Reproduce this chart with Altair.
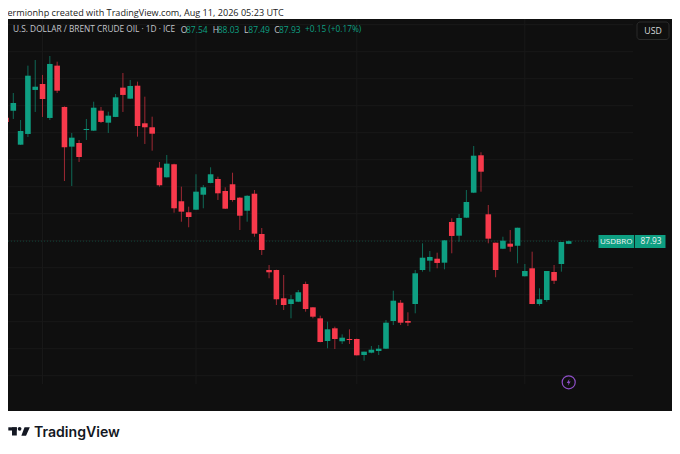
import altair as alt
import pandas as pd

idx = list(range(-1, 77))
opens = [106.20,107.26,102.22,103.81,110.33,111.21,106.18,113.93,107.81,101.93,102.47,104.40,104.30,107.26,105.48,106.33,110.67,109.04,110.96,105.39,104.80,
         98.81,97.39,99.32,93.84,92.21,92.59,94.81,96.55,97.14,95.36,96.36,94.37,92.44,94.96,88.99,83.66,83.66,79.47,78.62,78.96,81.58,78.13,76.50,73.14,75.02,73.10,
         73.44,73.44,71.07,71.41,71.66,72.00,76.10,78.81,76.10,78.62,83.66,85.04,85.33,84.74,90.77,88.74,91.41,95.11,100.65,91.91,87.70,86.81,87.56,87.26,82.73,83.91,78.62,79.21,83.36,84.55,87.54]
closes = [105.60,108.40,104.25,112.44,110.81,108.99,114.18,110.22,101.84,103.26,100.40,104.55,107.70,105.59,106.52,109.24,109.59,110.92,104.99,104.80,103.85,
          96.21,99.41,92.80,92.30,91.51,95.26,95.91,97.84,95.02,92.74,94.03,91.70,94.65,89.04,86.62,83.32,79.32,78.47,79.32,80.36,77.88,76.74,72.99,74.87,73.44,73.63,
          73.29,71.02,71.56,71.85,72.00,75.85,79.11,75.85,75.85,83.17,85.48,85.59,84.70,88.05,88.70,91.36,93.73,100.59,98.22,88.30,83.66,88.00,87.11,89.93,83.51,78.62,79.32,83.51,82.07,87.81,87.93]
highs = [106.60,109.88,105.88,113.93,114.77,112.55,115.36,114.52,107.90,103.96,102.92,106.03,108.59,107.81,107.11,109.73,112.84,111.81,111.56,109.33,106.37,
         99.66,100.70,99.40,96.00,93.04,97.84,96.25,98.87,97.48,95.91,98.07,94.45,94.73,95.51,89.88,84.40,83.70,82.92,79.95,80.70,81.93,78.15,76.89,76.00,75.26,74.13,
         74.87,73.50,71.56,72.40,72.55,76.25,80.59,79.21,77.39,83.66,87.61,86.47,86.22,88.10,91.32,91.96,95.51,102.03,101.10,93.29,87.70,88.59,89.58,89.93,84.55,86.37,80.95,83.51,84.40,87.81,88.03]
lows = [105.20,106.03,102.18,103.36,107.07,106.33,105.88,109.88,96.84,96.10,99.66,102.92,104.25,105.44,103.96,106.30,107.07,109.00,103.41,102.33,101.33,
        96.00,97.35,92.15,90.81,89.99,92.55,92.80,96.50,94.03,92.70,93.78,89.58,90.81,88.59,85.88,82.43,78.47,77.73,76.50,78.90,77.48,76.50,72.95,72.06,71.95,72.70,
        72.70,71.00,70.22,71.32,71.07,71.95,75.51,75.51,75.36,77.24,83.41,83.41,83.91,83.76,86.13,87.85,91.35,95.05,95.26,87.61,82.58,86.75,86.37,84.65,82.70,78.60,78.37,78.96,81.58,83.41,87.49]

price_ticks = [68, 72, 76, 80, 84, 88, 92, 96, 100, 104, 108, 112, 116, 120]
price_labels = [68, 72, 76, 80, 84, 92, 96, 100, 104, 108, 112, 116]
month_ticks = [4, 25, 47, 70]
month_names = ["May", "Jun", "Jul", "Aug"]
last_price = 87.93

UP = "#0e9f82"
DOWN = "#f7394b"
BG = "#0f0f0f"
GRID = "#191919"
TXT = "#c4c6cc"
FONT = "Open Sans"

df = pd.DataFrame({"i": idx, "o": opens, "c": closes, "h": highs, "l": lows})
df["dir"] = ["up" if c >= o else "down" for o, c in zip(df.o, df.c)]

xscale = alt.Scale(domain=[-0.725, 84.8], nice=False, zero=False, padding=0)
yscale = alt.Scale(domain=[66.77, 120.84], nice=False, zero=False)
color = alt.Color("dir:N", legend=None, scale=alt.Scale(domain=["up", "down"], range=[UP, DOWN]))


def one():
    return alt.Data(values=[{"k": 1}])


def label(text, px, py, size=10, col=TXT, font=FONT, align="left", weight=400):
    return alt.Chart(one()).mark_text(
        text=text, align=align, baseline="middle", fontSize=size, color=col, font=font, fontWeight=weight
    ).encode(x=alt.value(px - 8), y=alt.value(py - 19))


def box(x0, x1, y0, y1, fill, **kw):
    return alt.Chart(one()).mark_rect(color=fill, **kw).encode(
        x=alt.value(x0 - 8), x2=alt.value(x1 - 8), y=alt.value(y0 - 19), y2=alt.value(y1 - 19)
    )


bg = box(8, 672, 19, 411, BG)

grid_h = alt.Chart(pd.DataFrame({"p": price_ticks})).mark_rule(color=GRID, strokeWidth=1).encode(
    y=alt.Y("p:Q", scale=yscale, axis=None)
)
grid_v = alt.Chart(pd.DataFrame({"m": month_ticks})).mark_rule(color=GRID, strokeWidth=1).encode(
    x=alt.X("m:Q", scale=xscale, axis=None)
)
last_line = alt.Chart(pd.DataFrame({"p": [last_price]})).mark_rule(
    color=UP, strokeWidth=1, strokeDash=[1, 2], opacity=0.35
).encode(y=alt.Y("p:Q", scale=yscale, axis=None))

label_expr = " : ".join(f"datum.value == {t} ? '{n}'" for t, n in zip(month_ticks, month_names)) + " : ''"

wicks = alt.Chart(df).mark_rule(strokeWidth=1, opacity=0.62, clip=True).encode(
    x=alt.X(
        "i:Q", scale=xscale, title=None,
        axis=alt.Axis(values=month_ticks, labelExpr=label_expr, grid=False, domain=False, ticks=False,
                      labelPadding=17, labelColor=TXT, labelFont=FONT, labelFontSize=8.7, labelBaseline="middle",
                      labelFlush=False, labelOverlap=False, zindex=1),
    ),
    y=alt.Y(
        "h:Q", scale=yscale, title=None,
        axis=alt.Axis(orient="right", values=price_labels, format=".2f", grid=False, domain=False, ticks=False,
                      labelPadding=8, labelColor=TXT, labelFont=FONT, labelFontSize=8.7, labelOverlap=False, zindex=1),
    ),
    y2="l:Q",
    color=color,
)
bodies = alt.Chart(df).mark_bar(size=5.6, clip=True).encode(
    x=alt.X("i:Q", scale=xscale, axis=None),
    y=alt.Y("o:Q", scale=yscale, axis=None),
    y2="c:Q",
    color=color,
)

texts = [
    label("ermionhp created with TradingView.com, Aug 11, 2026 05:23 UTC", 7.5, 12.6, size=9.1, col="#222222"),
    label("U.S. DOLLAR / BRENT CRUDE OIL · 1D · ICE", 13, 30, size=8.3),
    label("O", 180.7, 30, size=8.5),
    label("87.54", 186, 30, size=8.5, col=UP),
    label("H", 212.7, 30, size=8.5),
    label("88.03", 217.7, 30, size=8.5, col=UP),
    label("L", 244, 30, size=8.5),
    label("87.49", 248.3, 30, size=8.5, col=UP),
    label("C", 274.3, 30, size=8.5),
    label("87.93", 279, 30, size=8.5, col=UP),
    label("+0.15 (+0.17%)", 305, 30, size=8.3, col=UP),
    label("USD", 653, 30.5, size=8.7, align="center", col="#d8d9dd"),
    label("TradingView", 34, 432.5, size=14.1, col="#131722", font="Inter", weight=600),
]

usd_btn = box(637, 669, 22, 39.5, BG, stroke="#2b2b2b", strokeWidth=1, cornerRadius=3)

tag = [
    box(598.5, 634, 235, 248, UP),
    box(634.8, 665.5, 235, 248, UP),
    label("USDBRO", 616.2, 241.5, size=8, align="center", col="#f2f2f2"),
    label("87.93", 651, 241.5, size=8.3, align="center", col="#f2f2f2"),
]

bolt = alt.Chart(one()).mark_point(
    shape="M0.2,-0.9 L-0.5,0.15 L-0.05,0.15 L-0.2,0.9 L0.5,-0.2 L0.05,-0.2 Z",
    filled=True, color="#8e4fc8", size=60, opacity=1,
).encode(x=alt.value(568.7 - 8), y=alt.value(382.3 - 19))
ring = alt.Chart(one()).mark_point(
    shape="circle", filled=False, color="#8e4fc8", size=170, strokeWidth=1.2, opacity=1
).encode(x=alt.value(568.7 - 8), y=alt.value(382.3 - 19))

logo = [
    box(8.3, 16.8, 427.3, 430.5, "#131722"),
    box(12, 16.8, 427.3, 435.5, "#131722"),
    alt.Chart(one()).mark_point(shape="circle", filled=True, color="#131722", size=14, opacity=1).encode(
        x=alt.value(19.6 - 8), y=alt.value(428.8 - 19)
    ),
    alt.Chart(one()).mark_point(
        shape="M-0.25,-1 L1,-1 L0.1,1 L-1,1 Z", filled=True, color="#131722", size=72, opacity=1
    ).encode(x=alt.value(25.6 - 8), y=alt.value(431.4 - 19)),
]

chart = alt.layer(
    bg, grid_h, grid_v, last_line, wicks, bodies, usd_btn, *tag, ring, bolt, *logo, *texts
).resolve_scale(color="independent").properties(
    width=625, height=365,
    padding={"left": 0, "top": 11, "right": 39, "bottom": 62},
    autosize=alt.AutoSizeParams(type="none"),
    background="white",
).configure_view(stroke=None)

chart.save("out.html", embed_options={"renderer": "svg", "actions": False})
